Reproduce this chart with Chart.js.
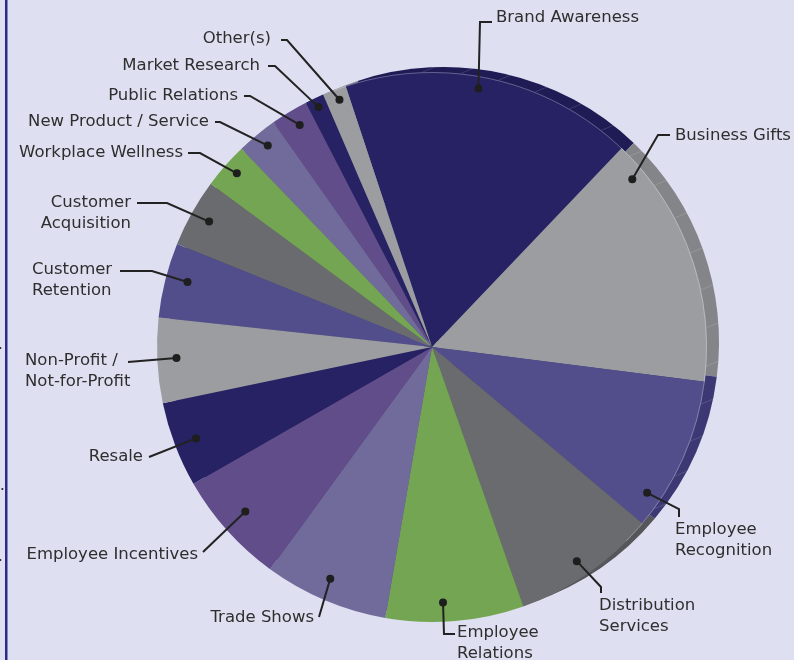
<!DOCTYPE html>
<html lang="en">
<head>
    <meta charset="UTF-8">
    <title>Promotional Product Uses</title>
    <style>
        body {
            margin: 0;
            padding: 0;
            background: #dedff0;
        }

        #wrap {
            position: relative;
            width: 794px;
            height: 660px;
        }
    </style>
</head>
<body>
    <div id="wrap">
        <canvas id="pieChart"></canvas>
    </div>
    <script src="https://cdn.jsdelivr.net/npm/chart.js"></script>
    <script>
        // data (share of the pie, percent)
        const categories = [
            'Brand Awareness', 'Business Gifts', 'Employee Recognition', 'Distribution Services',
            'Employee Relations', 'Trade Shows', 'Employee Incentives', 'Resale',
            'Non-Profit / Not-for-Profit', 'Customer Retention', 'Customer Acquisition',
            'Workplace Wellness', 'New Product / Service', 'Public Relations', 'Market Research', 'Other(s)'
        ];
        const shares = [17.2, 14.9, 9.1, 8.5, 8.1, 7.3, 6.7, 5.0, 5.0, 4.4, 4.0, 2.7, 2.4, 2.2, 1.1, 1.4];
        const labelLines = [
            ['Brand Awareness'], ['Business Gifts'], ['Employee', 'Recognition'], ['Distribution', 'Services'],
            ['Employee', 'Relations'], ['Trade Shows'], ['Employee Incentives'], ['Resale'],
            ['Non-Profit /', 'Not-for-Profit'], ['Customer', 'Retention'], ['Customer', 'Acquisition'],
            ['Workplace Wellness'], ['New Product / Service'], ['Public Relations'], ['Market Research'], ['Other(s)']
        ];

        // styling
        const palette = ['#272264', '#9c9da1', '#524e8c', '#6a6b6f', '#74a552', '#716b9b', '#614d8a'];
        const rimPalette = ['#1f1b54', '#848589', '#3b3873', '#555659', '#5e8a42', '#5c5782', '#4f3f72'];
        const sliceColors = shares.map((v, i) => palette[i % palette.length]);
        const rimColors = shares.map((v, i) => rimPalette[i % rimPalette.length]);
        const rimShift = [12, -5];

        // label placement: text anchor, alignment, leader points, dot position inside slice (t along, rf of radius)
        const labelLayout = [
            { x: 496, y: 18, align: 'left', leader: [[492, 22], [480, 22]], t: 0.46, rf: 0.955 },
            { x: 675, y: 136, align: 'left', leader: [[670, 135], [658, 135]], t: 0.12, rf: 0.95 },
            { x: 675, y: 530, align: 'left', leader: [[679, 517], [679, 509]], t: 0.82, rf: 0.945 },
            { x: 599, y: 606, align: 'left', leader: [[601, 593], [601, 587]], t: 0.52, rf: 0.94 },
            { x: 457, y: 633, align: 'left', leader: [[455, 634], [444, 634]], t: 0.58, rf: 0.93 },
            { x: 314, y: 618, align: 'right', leader: [[319, 617]], t: 0.53, rf: 0.92 },
            { x: 198, y: 555, align: 'right', leader: [[203, 552]], t: 0.52, rf: 0.905 },
            { x: 143, y: 457, align: 'right', leader: [[149, 457]], t: 0.48, rf: 0.92 },
            { x: 25, y: 361, align: 'left', leader: [[128, 362]], t: 0.52, rf: 0.93 },
            { x: 32, y: 270, align: 'left', leader: [[120, 271], [152, 271]], t: 0.55, rf: 0.92 },
            { x: 131, y: 203, align: 'right', leader: [[137, 203], [167, 203]], t: 0.51, rf: 0.93 },
            { x: 183, y: 153, align: 'right', leader: [[188, 153], [200, 153]], t: 0.54, rf: 0.95 },
            { x: 209, y: 122, align: 'right', leader: [[215, 122], [220, 122]], t: 0.54, rf: 0.945 },
            { x: 238, y: 96, align: 'right', leader: [[244, 96], [250, 96]], t: 0.56, rf: 0.94 },
            { x: 260, y: 66, align: 'right', leader: [[268, 66], [275, 66]], t: 0.5, rf: 0.965 },
            { x: 271, y: 39, align: 'right', leader: [[281, 40], [287, 40]], t: 0.56, rf: 0.96 }
        ];

        const FONT = '16.5px "DejaVu Sans", sans-serif';

        const frame = {
            id: 'frame',
            beforeDraw(chart) {
                const ctx = chart.ctx;
                ctx.save();
                ctx.fillStyle = '#dedff0';
                ctx.fillRect(0, 0, chart.width, chart.height);
                ctx.fillStyle = '#2d2a8a';
                ctx.fillRect(5, 0, 2.5, chart.height);
                // cut-off text bits left of the frame
                ctx.fillStyle = '#333';
                ctx.font = FONT;
                ctx.textAlign = 'right';
                ctx.textBaseline = 'middle';
                ctx.fillText('.', 3, 345);
                ctx.fillText('c.', 5, 486);
                ctx.fillText('.', 3, 557);
                ctx.restore();
            }
        };

        // darker copy of the pie shifted up-right gives the thick edge
        const rim = {
            id: 'rim',
            beforeDatasetsDraw(chart) {
                const ctx = chart.ctx;
                const arcs = chart.getDatasetMeta(0).data;
                ctx.save();
                ctx.translate(rimShift[0], rimShift[1]);
                arcs.forEach((a, i) => {
                    ctx.beginPath();
                    ctx.moveTo(a.x, a.y);
                    ctx.arc(a.x, a.y, a.outerRadius, a.startAngle, a.endAngle);
                    ctx.closePath();
                    ctx.fillStyle = rimColors[i];
                    ctx.fill();
                });
                ctx.restore();

                // faint facet lines across the rim
                const a0 = arcs[0];
                ctx.save();
                ctx.strokeStyle = 'rgba(255,255,255,0.2)';
                ctx.lineWidth = 0.7;
                for (let deg = -108; deg <= 40; deg += 8) {
                    const ang = deg * Math.PI / 180;
                    const thick = rimShift[0] * Math.cos(ang) + rimShift[1] * Math.sin(ang);
                    if (thick < 3) continue;
                    const px = a0.x + a0.outerRadius * Math.cos(ang);
                    const py = a0.y + a0.outerRadius * Math.sin(ang);
                    ctx.beginPath();
                    ctx.moveTo(px, py);
                    ctx.lineTo(px + rimShift[0], py + rimShift[1]);
                    ctx.stroke();
                }
                ctx.restore();
            },
            afterDatasetsDraw(chart) {
                const ctx = chart.ctx;
                const a0 = chart.getDatasetMeta(0).data[0];
                ctx.save();
                ctx.strokeStyle = 'rgba(255,255,255,0.4)';
                ctx.lineWidth = 0.7;
                ctx.beginPath();
                ctx.arc(a0.x, a0.y, a0.outerRadius - 0.5, -112 * Math.PI / 180, 45 * Math.PI / 180);
                ctx.stroke();
                ctx.restore();
            }
        };

        const callouts = {
            id: 'callouts',
            afterDatasetsDraw(chart) {
                const ctx = chart.ctx;
                const arcs = chart.getDatasetMeta(0).data;
                ctx.save();
                ctx.font = FONT;
                ctx.textBaseline = 'middle';
                arcs.forEach((a, i) => {
                    const L = labelLayout[i];
                    const ang = a.startAngle + L.t * (a.endAngle - a.startAngle);
                    const dx = a.x + L.rf * a.outerRadius * Math.cos(ang);
                    const dy = a.y + L.rf * a.outerRadius * Math.sin(ang);

                    ctx.strokeStyle = '#222';
                    ctx.lineWidth = 2;
                    ctx.beginPath();
                    ctx.moveTo(L.leader[0][0], L.leader[0][1]);
                    for (let k = 1; k < L.leader.length; k++) ctx.lineTo(L.leader[k][0], L.leader[k][1]);
                    ctx.lineTo(dx, dy);
                    ctx.stroke();

                    ctx.fillStyle = '#1e1e1e';
                    ctx.beginPath();
                    ctx.arc(dx, dy, 4, 0, Math.PI * 2);
                    ctx.fill();

                    ctx.fillStyle = '#2e2e2e';
                    ctx.textAlign = L.align;
                    labelLines[i].forEach((line, k) => {
                        ctx.fillText(line, L.x, L.y + k * 21);
                    });
                });
                ctx.restore();
            }
        };

        new Chart(document.getElementById('pieChart'), {
            type: 'pie',
            data: {
                labels: categories,
                datasets: [{
                    data: shares,
                    backgroundColor: sliceColors,
                    borderWidth: 0,
                    hoverOffset: 0
                }]
            },
            options: {
                responsive: true,
                maintainAspectRatio: false,
                animation: false,
                rotation: -18.3,
                layout: {
                    padding: { left: 157, right: 87, top: 72, bottom: 38 }
                },
                plugins: {
                    legend: { display: false },
                    tooltip: { enabled: false }
                }
            },
            plugins: [frame, rim, callouts]
        });
    </script>
</body>
</html>
